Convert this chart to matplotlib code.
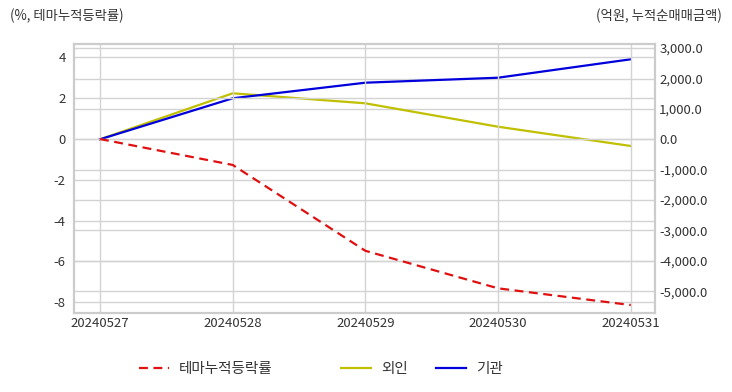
import matplotlib
matplotlib.use("Agg")
import matplotlib.pyplot as plt
from matplotlib.lines import Line2D
from matplotlib.ticker import FuncFormatter

plt.rcParams['font.family'] = ['Noto Sans CJK KR', 'DejaVu Sans']
plt.rcParams['axes.unicode_minus'] = False

dates = ["20240527", "20240528", "20240529", "20240530", "20240531"]
theme_return = [0.0, -1.27, -5.48, -7.32, -8.14]
foreign = [0.0, 1513, 1184, 414, -220]
institution = [0.0, 1349, 1862, 2026, 2632]

left_ticks = [4, 2, 0, -2, -4, -6, -8]
right_ticks = [3000, 2000, 1000, 0, -1000, -2000, -3000, -4000, -5000]

txt = '#333333'
grid_c = '#d3d3d3'

fig = plt.figure(figsize=(7.32, 3.92), dpi=100)
ax1 = fig.add_axes([74/732, 1-313/392, (655-74)/732, (313-44)/392])
ax2 = ax1.twinx()

x = list(range(len(dates)))
ax1.plot(x, theme_return, color='#e01010', linestyle=(0, (4, 2.5)), linewidth=1.6, zorder=3)
ax2.plot(x, foreign, color='#c0c000', linewidth=1.6, zorder=3)
ax2.plot(x, institution, color='#0000dd', linewidth=1.6, zorder=3)

ax1.set_xlim(-0.196, 4.183)
ax1.set_ylim(-8.53, 4.66)
ax2.set_ylim(-5714, 3135)
ax1.set_xticks(x)
ax1.set_xticklabels(dates)
ax1.set_yticks(left_ticks)
ax2.set_yticks(right_ticks)
ax2.yaxis.set_major_formatter(FuncFormatter(lambda v, p: f"{v:,.1f}"))

ax1.grid(True, color=grid_c, linewidth=1.0)
ax2.grid(True, axis='y', color=grid_c, linewidth=1.0)
ax1.set_axisbelow(True)
ax2.set_axisbelow(True)
ax1.set_zorder(ax2.get_zorder() + 1)
ax1.patch.set_visible(False)

for ax in (ax1, ax2):
    for s in ax.spines.values():
        s.set_color('#cccccc')
        s.set_linewidth(1.5)
    ax.tick_params(length=0, labelsize=9.5, colors=txt, pad=6)
ax1.tick_params(axis='x', pad=3)
ax2.tick_params(axis='y', pad=3)

fig.text(10/732, 1-16/392, "(%, 테마누적등락률)", fontsize=9.6, color=txt, ha='left', va='center')
fig.text(722/732, 1-16/392, "(억원, 누적순매매금액)", fontsize=9.6, color=txt, ha='right', va='center')

h1 = [Line2D([], [], color='#e01010', linestyle=(0, (4, 2.5)), linewidth=1.6)]
leg1 = fig.legend(h1, ["테마누적등락률"], loc='center left', bbox_to_anchor=(126/732, 1-369/392),
                  frameon=False, fontsize=10.5, handlelength=2.06, handletextpad=0.69, labelcolor=txt)
h2 = [Line2D([], [], color='#c0c000', linewidth=1.6), Line2D([], [], color='#0000dd', linewidth=1.6)]
leg2 = fig.legend(h2, ["외인", "기관"], loc='center left', bbox_to_anchor=(328/732, 1-369/392),
                  frameon=False, fontsize=10.5, ncol=2, handlelength=2.06, handletextpad=0.69,
                  columnspacing=1.92, labelcolor=txt)

fig.savefig("out.png", dpi=100)
